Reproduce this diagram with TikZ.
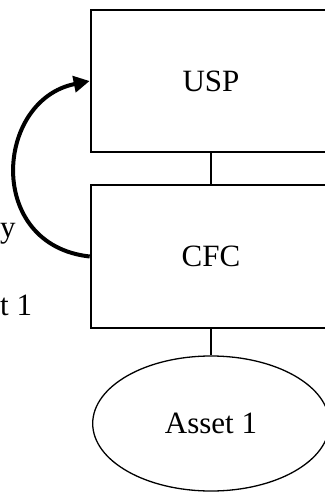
\documentclass[tikz,border=0pt]{standalone}
\usepackage{fontspec}
\setmainfont{Liberation Serif}
\usetikzlibrary{arrows.meta,shapes.geometric}
\begin{document}
\begin{tikzpicture}[x=1pt,y=-1pt,
  every node/.style={font=\fontsize{31}{36}\selectfont},
  boxnode/.style={draw,line width=2pt,minimum width=240.6pt,inner sep=0pt},
  ellnode/.style={draw,ellipse,line width=1.3pt,minimum width=236.6pt,minimum height=135pt,inner sep=0pt},
  link/.style={line width=1.8pt},
  flow/.style={line width=4pt,-{Triangle[length=16pt,width=16pt]}},
  frag/.style={inner sep=0pt,anchor=base west}]
\useasboundingbox (0,0) rectangle (324,492);
\node[boxnode,minimum height=142pt] (usp) at (211,81) {USP};
\node[boxnode,minimum height=143pt] (cfc) at (211,256.5) {CFC};
\node[ellnode] (asset) at (211,423.5) {Asset 1};
\draw[link] (usp.south) -- (cfc.north);
\draw[link] (cfc.south) -- (asset.north);
\draw[flow] (cfc.west) .. controls (-15,245) and (-5,100) .. (usp.west);
\node[frag] (fy) at (0,237) {y};
\node[frag] (ft) at (0,315) {t 1};
\end{tikzpicture}
\end{document}
